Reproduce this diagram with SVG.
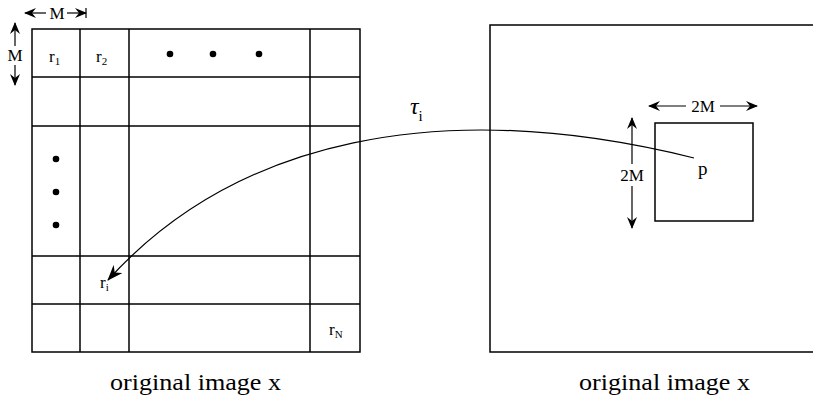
<svg xmlns="http://www.w3.org/2000/svg" width="813" height="406" viewBox="0 0 813 406">
<defs>
<style>
.ln{stroke:#000;stroke-width:1.5;fill:none}
.thin{stroke:#000;stroke-width:1.2;fill:none}
.t{font-family:"Liberation Serif","Times New Roman",serif;fill:#000}
</style>
<marker id="ah" viewBox="0 0 12 10" refX="11" refY="5" markerWidth="12" markerHeight="10" markerUnits="userSpaceOnUse" orient="auto-start-reverse">
<path d="M0,0 L12,5 L0,10 L4,5 Z" fill="#000"/>
</marker>
<marker id="ahb" viewBox="0 0 16 12" refX="15" refY="6" markerWidth="16" markerHeight="12" markerUnits="userSpaceOnUse" orient="auto">
<path d="M0,0 L16,6 L0,12 L5,6 Z" fill="#000"/>
</marker>
</defs>
<rect width="813" height="406" fill="#fff"/>
<g id="grid-left">
<rect class="ln" x="32" y="29" width="328" height="323"/>
<line class="ln" x1="80" y1="29" x2="80" y2="352"/>
<line class="ln" x1="129" y1="29" x2="129" y2="352"/>
<line class="ln" x1="310" y1="29" x2="310" y2="352"/>
<line class="ln" x1="32" y1="77" x2="360" y2="77"/>
<line class="ln" x1="32" y1="126" x2="360" y2="126"/>
<line class="ln" x1="32" y1="256" x2="360" y2="256"/>
<line class="ln" x1="32" y1="304" x2="360" y2="304"/>
<text class="t" x="49" y="62" font-size="17">r<tspan font-size="11" dy="3">1</tspan></text>
<text class="t" x="96" y="62" font-size="17">r<tspan font-size="11" dy="3">2</tspan></text>
<text class="t" x="100" y="288" font-size="17">r<tspan font-size="11" dy="3">i</tspan></text>
<text class="t" x="329" y="335" font-size="17">r<tspan font-size="11" dy="3">N</tspan></text>
<circle cx="170" cy="54" r="3.3"/>
<circle cx="213" cy="54" r="3.3"/>
<circle cx="259" cy="54" r="3.3"/>
<circle cx="56" cy="159" r="3.3"/>
<circle cx="56" cy="192" r="3.3"/>
<circle cx="56" cy="225" r="3.3"/>
<text class="t" x="110" y="390" font-size="23" textLength="171" lengthAdjust="spacingAndGlyphs">original image x</text>
</g>
<g id="image-right">
<path class="ln" d="M813,25 L490,25 L490,352 L813,352"/>
<text class="t" x="579" y="390" font-size="23" textLength="171" lengthAdjust="spacingAndGlyphs">original image x</text>
</g>
<g id="patch">
<rect class="ln" x="655" y="123" width="98" height="98"/>
<text class="t" x="698" y="175" font-size="19">p</text>
</g>
<g id="connectors">
<path class="thin" d="M694,158 C440,95 235,140 108,280" marker-end="url(#ahb)"/>
<text class="t" x="410" y="114" font-size="24" font-style="italic">τ<tspan font-size="15" font-style="normal" dy="7">i</tspan></text>
<line class="thin" x1="25" y1="13" x2="46" y2="13" marker-start="url(#ah)"/>
<line class="thin" x1="67" y1="13" x2="86" y2="13" marker-end="url(#ah)"/>
<line class="thin" x1="86" y1="8" x2="86" y2="18"/>
<text class="t" x="57" y="19" font-size="17" text-anchor="middle">M</text>
<line class="thin" x1="15" y1="23" x2="15" y2="46" marker-start="url(#ah)"/>
<line class="thin" x1="15" y1="65" x2="15" y2="85" marker-end="url(#ah)"/>
<text class="t" x="15" y="61" font-size="17" text-anchor="middle">M</text>
<line class="thin" x1="649" y1="106" x2="686" y2="106" marker-start="url(#ah)"/>
<line class="thin" x1="720" y1="106" x2="757" y2="106" marker-end="url(#ah)"/>
<text class="t" x="703" y="112" font-size="17" text-anchor="middle">2M</text>
<line class="thin" x1="632" y1="118" x2="632" y2="164" marker-start="url(#ah)"/>
<line class="thin" x1="632" y1="186" x2="632" y2="228" marker-end="url(#ah)"/>
<text class="t" x="632" y="181" font-size="17" text-anchor="middle">2M</text>
</g>
</svg>
